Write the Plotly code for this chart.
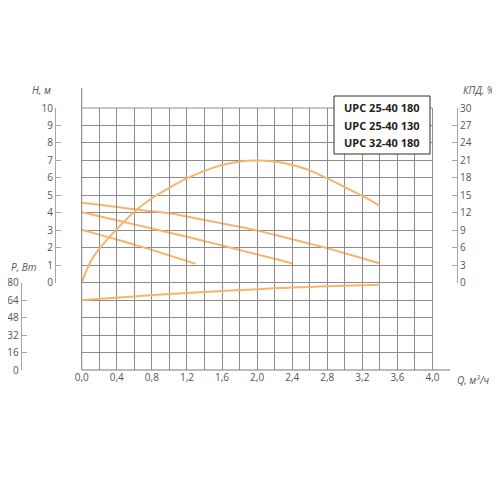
import plotly.graph_objects as go

# ---------------- data ----------------
q_a = [0.0, 0.2, 0.4, 0.6, 0.8, 1.0, 1.2, 1.4, 1.6, 1.8, 2.0, 2.2, 2.4, 2.6, 2.8, 3.0, 3.2, 3.4]
h_a = [4.58, 4.46, 4.33, 4.20, 4.09, 3.97, 3.79, 3.59, 3.39, 3.20, 2.98, 2.74, 2.49, 2.23, 1.97, 1.69, 1.40, 1.10]

q_b = [0.0, 0.2, 0.4, 0.6, 0.8, 1.0, 1.2, 1.4, 1.6, 1.8, 2.0, 2.2, 2.4]
h_b = [4.03, 3.80, 3.57, 3.34, 3.10, 2.86, 2.63, 2.38, 2.13, 1.87, 1.62, 1.37, 1.10]

q_c = [0.0, 0.2, 0.4, 0.6, 0.8, 1.0, 1.2, 1.3]
h_c = [3.03, 2.75, 2.47, 2.18, 1.88, 1.56, 1.24, 1.08]

q_eff = [0.0, 0.1, 0.2, 0.4, 0.6, 0.8, 1.0, 1.2, 1.4, 1.6, 1.8, 2.0, 2.2, 2.4, 2.6, 2.8, 3.0, 3.2, 3.4]
eff = [0.0, 3.6, 5.8, 9.2, 12.2, 14.5, 16.3, 17.9, 19.2, 20.2, 20.8, 21.0, 20.8, 20.2, 19.3, 17.9, 16.4, 14.9, 13.2]

q_p = [0.0, 0.2, 0.4, 0.6, 0.8, 1.0, 1.2, 1.4, 1.6, 1.8, 2.0, 2.2, 2.4, 2.6, 2.8, 3.0, 3.2, 3.4]
p_w = [64.0, 65.2, 66.3, 67.4, 68.5, 69.6, 70.6, 71.5, 72.4, 73.2, 74.0, 74.8, 75.5, 76.1, 76.7, 77.2, 77.7, 78.1]

q_ticks = [0.0, 0.4, 0.8, 1.2, 1.6, 2.0, 2.4, 2.8, 3.2, 3.6, 4.0]
q_ticktext = ["0,0", "0,4", "0,8", "1,2", "1,6", "2,0", "2,4", "2,8", "3,2", "3,6", "4,0"]
q_minor = [0.2, 0.6, 1.0, 1.4, 1.8, 2.2, 2.6, 3.0, 3.4, 3.8]
h_ticks = [0, 1, 2, 3, 4, 5, 6, 7, 8, 9, 10]
p_ticks = [0, 16, 32, 48, 64, 80]
eff_ticks = [0, 3, 6, 9, 12, 15, 18, 21, 24, 27, 30]
grid_h = [-5, -4, -3, -2, -1, 0, 1, 2, 3, 4, 5, 6, 7, 8, 9, 10]

legend_names = ["UPC 25-40 180", "UPC 25-40 130", "UPC 32-40 180"]

# ---------------- layout helpers (window pixel -> paper; page body has an 8px margin) ----------------
S = 500.0
OFF = 8.0
def px(x):
    return (x - OFF) / S
def py(y):
    return 1 - (y - OFF) / S

X0, X1 = 81.7, 432.5          # Q = 0 .. 4
Y10, Y0, YB = 108.0, 282.7, 370.0   # H = 10, H = 0, H = -5

ORANGE = "#F6B46C"
GRID = "#8d8d8d"
AX = "#a6a6a6"
TXT = "#555555"
FONT = "Open Sans"

fig = go.Figure()

# empty trace so the main (grid) subplot exists
fig.add_trace(go.Scatter(x=[], y=[], xaxis="x", yaxis="y", mode="lines",
                         showlegend=False, hoverinfo="skip"))

for q, h in [(q_a, h_a), (q_b, h_b), (q_c, h_c)]:
    fig.add_trace(go.Scatter(x=q, y=h, xaxis="x", yaxis="y2", mode="lines",
                             line=dict(color=ORANGE, width=2, shape="spline"),
                             showlegend=False, hoverinfo="x+y"))
fig.add_trace(go.Scatter(x=q_eff, y=eff, xaxis="x", yaxis="y4", mode="lines",
                         line=dict(color=ORANGE, width=2, shape="spline"),
                         showlegend=False))
fig.add_trace(go.Scatter(x=q_p, y=p_w, xaxis="x", yaxis="y3", mode="lines",
                         line=dict(color=ORANGE, width=2, shape="spline"),
                         showlegend=False))

tickfont = dict(family=FONT, size=10, color=TXT)

fig.update_layout(
    width=500, height=500,
    autosize=False,
    margin=dict(l=0, r=0, t=0, b=0, pad=0),
    paper_bgcolor="white", plot_bgcolor="rgba(0,0,0,0)",
    showlegend=False,
    xaxis=dict(domain=[px(X0), px(X1)], range=[0, 4], anchor="y", tickmode="array",
               tickvals=q_ticks, ticktext=q_ticktext, tickfont=tickfont,
               showgrid=True, gridcolor=GRID, gridwidth=1, zeroline=False,
               showline=False, ticks="", automargin=False,
               minor=dict(tickvals=q_minor, showgrid=True, gridcolor=GRID, gridwidth=1, ticks=""),
               fixedrange=True),
    yaxis=dict(domain=[py(YB), py(Y10)], range=[-5, 10], anchor="x", tickmode="array",
               tickvals=grid_h, showticklabels=False, showgrid=True,
               gridcolor=GRID, gridwidth=1, zeroline=False, showline=False,
               ticks="", automargin=False, fixedrange=True),
    yaxis2=dict(domain=[py(Y0), py(Y10)], range=[0, 10], anchor="free",
                position=px(55), side="left", tickmode="array", tickvals=h_ticks,
                showgrid=False, zeroline=False, showline=True, linecolor=AX,
                linewidth=1, ticks="inside", ticklen=5, tickcolor=AX,
                tickfont=tickfont, automargin=False, fixedrange=True),
    yaxis3=dict(domain=[py(YB), py(Y0)], range=[0, 80], anchor="free",
                position=px(20.7), side="left", tickmode="array", tickvals=p_ticks,
                showgrid=False, zeroline=False, showline=True, linecolor=AX,
                linewidth=1, ticks="inside", ticklen=5, tickcolor=AX,
                tickfont=tickfont, automargin=False, fixedrange=True),
    yaxis4=dict(domain=[py(Y0), py(Y10)], range=[0, 30], anchor="free",
                position=px(457), side="right", tickmode="array", tickvals=eff_ticks,
                showgrid=False, zeroline=False, showline=True, linecolor=AX,
                linewidth=1, ticks="inside", ticklen=5, tickcolor=AX,
                tickfont=tickfont, automargin=False, fixedrange=True),
)

# frame lines (left border extended upward, bottom axis extended rightward, top & right grid edges)
line_dark = dict(color="#7a7a7a", width=1)
fig.add_shape(type="line", xref="paper", yref="paper", x0=px(X0), x1=px(X0), y0=py(YB), y1=py(88), line=line_dark)
fig.add_shape(type="line", xref="paper", yref="paper", x0=px(X0), x1=px(450), y0=py(YB), y1=py(YB), line=line_dark)
fig.add_shape(type="line", xref="paper", yref="paper", x0=px(X0), x1=px(X1), y0=py(Y10), y1=py(Y10), line=dict(color=GRID, width=1))
fig.add_shape(type="line", xref="paper", yref="paper", x0=px(X1), x1=px(X1), y0=py(YB), y1=py(Y10), line=dict(color=GRID, width=1))

# legend box
fig.add_shape(type="rect", xref="paper", yref="paper", x0=px(334), x1=px(430), y0=py(154), y1=py(96),
              line=dict(color="#3a2c20", width=1), fillcolor="white", layer="above")
for i, name in enumerate(legend_names):
    fig.add_annotation(xref="paper", yref="paper", x=px(382), y=py(108 + 17 * i), text="<b>%s</b>" % name,
                       showarrow=False, xanchor="center", yanchor="middle",
                       font=dict(family=FONT, size=11, color="#2a2018"))

# axis titles
title_font = dict(family=FONT, size=10, color=TXT)
fig.add_annotation(xref="paper", yref="paper", x=px(53), y=py(90), text="<i>H, м</i>",
                   showarrow=False, xanchor="right", yanchor="middle", font=title_font)
fig.add_annotation(xref="paper", yref="paper", x=px(9), y=py(267), text="<i>P, Вт</i>",
                   showarrow=False, xanchor="left", yanchor="middle", font=title_font)
fig.add_annotation(xref="paper", yref="paper", x=px(461), y=py(90), text="<i>КПД, %</i>",
                   showarrow=False, xanchor="left", yanchor="middle", font=title_font)
fig.add_annotation(xref="paper", yref="paper", x=px(455), y=py(380), text="<i>Q, м<sup>3</sup>/ч</i>",
                   showarrow=False, xanchor="left", yanchor="middle", font=title_font)

fig.write_html("out.html", config={"displayModeBar": False})
